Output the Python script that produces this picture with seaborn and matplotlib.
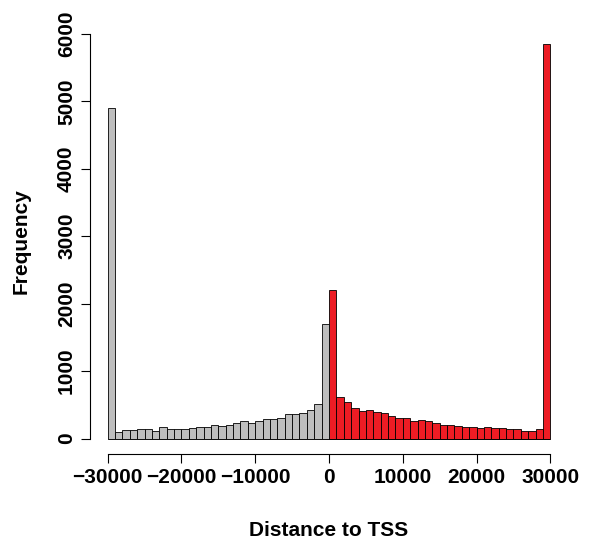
import numpy as np
import pandas as pd
import matplotlib
matplotlib.use("Agg")
import matplotlib.pyplot as plt
import seaborn as sns

# Histogram counts (bins of 1000 bp)
bin_edges = np.arange(-30000, 30001, 1000)
upstream_counts = [4900, 100, 120, 120, 135, 135, 105, 175, 135, 145,
                   145, 160, 170, 170, 195, 180, 200, 230, 260, 235,
                   265, 290, 290, 305, 360, 360, 385, 420, 515, 1700]
downstream_counts = [2200, 620, 545, 460, 415, 420, 395, 380, 335, 310,
                     310, 255, 270, 255, 225, 200, 200, 190, 170, 175,
                     150, 170, 150, 160, 135, 135, 115, 115, 135, 5850]
x_ticks = [-30000, -20000, -10000, 0, 10000, 20000, 30000]
y_ticks = [0, 1000, 2000, 3000, 4000, 5000, 6000]

centers = bin_edges[:-1] + 500
df = pd.DataFrame({
    "distance": centers,
    "count": upstream_counts + downstream_counts,
    "side": ["up"] * len(upstream_counts) + ["down"] * len(downstream_counts),
})

sns.set_style("ticks")
plt.rcParams["font.family"] = ["Liberation Sans", "DejaVu Sans"]
plt.rcParams["font.weight"] = "bold"
plt.rcParams["text.color"] = "black"
plt.rcParams["axes.labelcolor"] = "black"

fig = plt.figure(figsize=(5.91, 5.42), dpi=100)
ax = fig.add_axes([90 / 591, 1 - 454.3 / 542, 478 / 591, 426 / 542])

sns.histplot(data=df, x="distance", weights="count", hue="side",
             palette={"up": "#BEBEBE", "down": "#ED1C24"},
             binwidth=1000, binrange=(bin_edges[0], bin_edges[-1]),
             multiple="layer", alpha=1,
             edgecolor="black", linewidth=0.6, legend=False, ax=ax)

ax.set_xlim(-32400, 32400)
ax.set_ylim(-234, 6084)
ax.set_xticks(x_ticks)
ax.set_yticks(y_ticks)
ax.set_xticklabels([f"{v}".replace("-", "\u2212") for v in x_ticks],
                   fontsize=15, fontweight="bold", color="black")
ax.set_yticklabels([str(v) for v in y_ticks], fontsize=15,
                   fontweight="bold", rotation=90, va="center", color="black")

sns.despine(ax=ax)
ax.spines["left"].set_bounds(0, 6000)
ax.spines["bottom"].set_bounds(-30000, 30000)
for s in ("left", "bottom"):
    ax.spines[s].set_linewidth(0.8)
    ax.spines[s].set_color("black")
ax.tick_params(length=6.5, width=0.8, pad=3.5, colors="black")

ax.set_xlabel("Distance to TSS", fontsize=15, fontweight="bold", labelpad=24, color="black")
ax.set_ylabel("Frequency", fontsize=15, fontweight="bold", labelpad=19, color="black")

fig.savefig("out.png", dpi=100)
